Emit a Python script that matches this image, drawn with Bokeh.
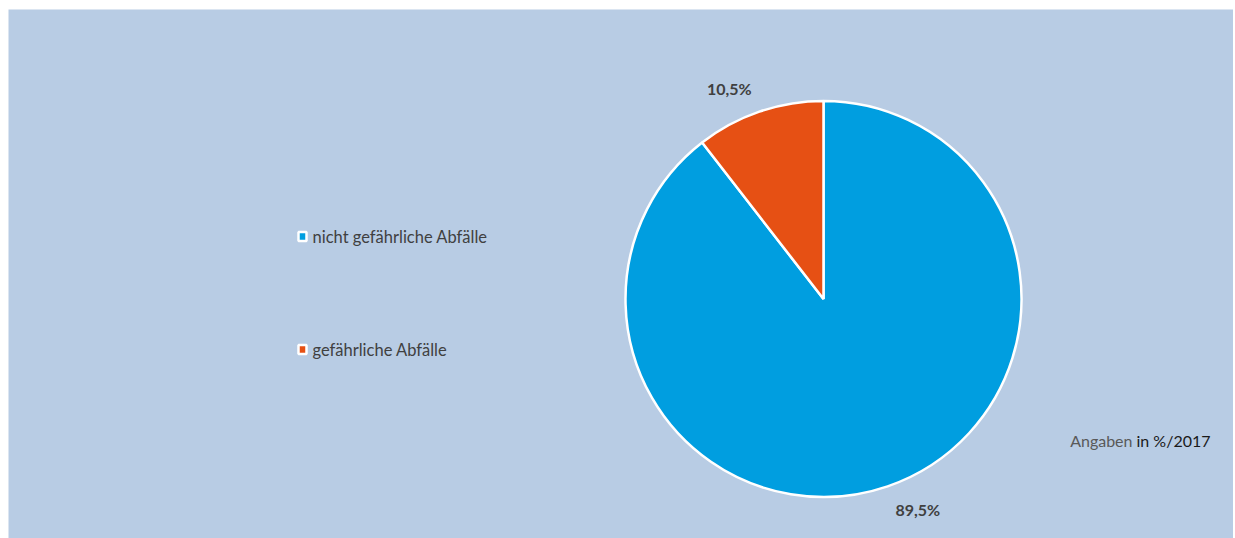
import math
from bokeh.plotting import figure
from bokeh.models import Range1d, ColumnDataSource
from bokeh.core.properties import value
from bokeh.embed import file_html
from bokeh.resources import INLINE

# ---- data ----
categories = ["nicht gefährliche Abfälle", "gefährliche Abfälle"]
shares = [89.5, 10.5]
labels = ["89,5%", "10,5%"]
colors = ["#009EE0", "#E65014"]
note_grey = "Angaben"
note_dark = "in %/2017"

# ---- layout ----
W, H = 1225, 529
BG = "#B8CCE4"
cx, cy, R = 815, H - 289.5, 198
FONT = "Lato"

p = figure(frame_width=W, frame_height=H, x_range=Range1d(0, W), y_range=Range1d(0, H),
           output_backend="svg", toolbar_location=None,
           min_border_left=8, min_border_top=9, min_border_right=0, min_border_bottom=0,
           background_fill_color=BG, border_fill_color="white", outline_line_color=None)
p.axis.visible = False
p.grid.visible = False

total = sum(shares)
starts, ends, lx, ly, align = [], [], [], [], []
acc = 0.0
for s in shares:
    a0 = math.pi / 2 - 2 * math.pi * acc / total
    a1 = math.pi / 2 - 2 * math.pi * (acc + s) / total
    starts.append(a0)
    ends.append(a1)
    mid = (a0 + a1) / 2
    d = R + 24
    lx.append(cx + d * math.cos(mid))
    ly.append(cy + d * math.sin(mid))
    align.append("left" if math.cos(mid) > 0 else "right")
    acc += s

src = ColumnDataSource(dict(start=starts, end=ends, color=colors, cat=categories,
                            lx=lx, ly=ly, lab=labels, align=align))
p.wedge(x=cx, y=cy, radius=R, start_angle="start", end_angle="end", direction="clock",
        fill_color="color", line_color="white", line_width=2.5, source=src)

p.text(x="lx", y="ly", text="lab", text_align="align", text_baseline="middle",
       text_font=value(FONT), text_font_size="16px", text_font_style="bold",
       text_color="#404040", source=src)

# legend
leg_x = 294
leg_y = [H - 227, H - 340]
lsrc = ColumnDataSource(dict(x=[leg_x] * 2, y=leg_y, color=colors, cat=categories,
                             tx=[leg_x + 10] * 2))
p.rect(x="x", y="y", width=8, height=9, fill_color="color", line_color="white",
       line_width=2.5, source=lsrc)
p.text(x="tx", y="y", text="cat", text_align="left", text_baseline="middle",
       text_font=value(FONT), text_font_size="16.5px", text_color="#404040", source=lsrc)

# note
p.text(x=[1124], y=[H - 431], text=[note_grey], text_align="right", text_baseline="middle",
       text_font=value(FONT), text_font_size="16px", text_color="#595959")
p.text(x=[1128], y=[H - 431], text=[note_dark], text_align="left", text_baseline="middle",
       text_font=value(FONT), text_font_size="16px", text_color="#1A1A1A")

open("out.html", "w").write(file_html(p, INLINE))
